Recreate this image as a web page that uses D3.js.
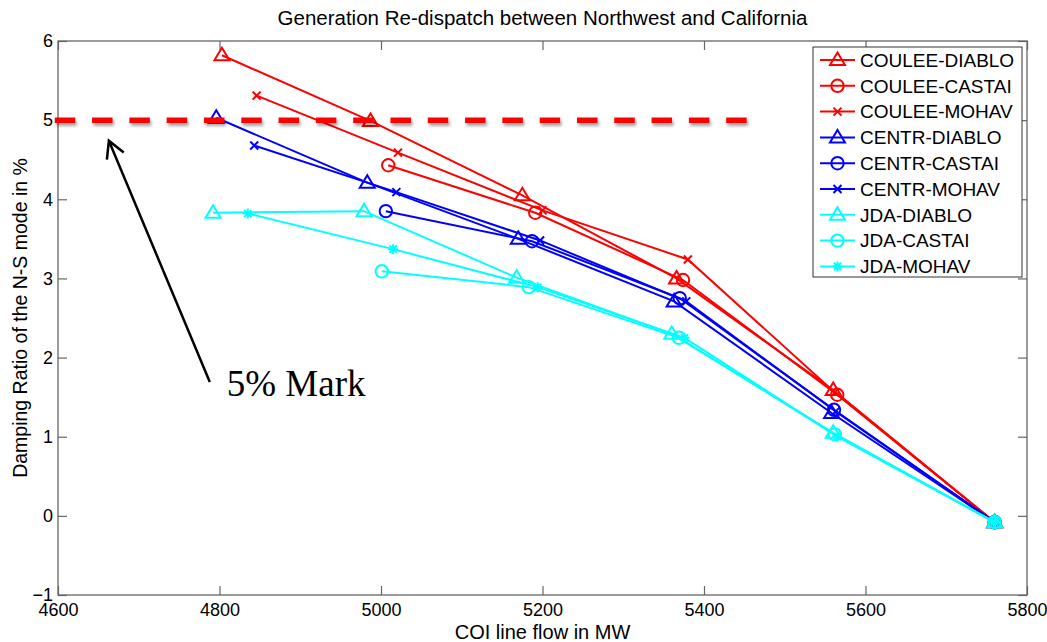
<!DOCTYPE html>
<html>
<head>
<meta charset="utf-8">
<script src="https://cdn.jsdelivr.net/npm/d3@7"></script>
<style>
  body { margin: 0; background: #fff; }
</style>
</head>
<body>
<div class="container"></div>
<script>
// tick labels
const xTicks = [4600, 4800, 5000, 5200, 5400, 5600, 5800],
    yTicks = [-1, 0, 1, 2, 3, 4, 5, 6];

// series: COI flow (MW) and damping ratio (%)
const seriesNames = ['COULEE-DIABLO', 'COULEE-CASTAI', 'COULEE-MOHAV',
    'CENTR-DIABLO', 'CENTR-CASTAI', 'CENTR-MOHAV',
    'JDA-DIABLO', 'JDA-CASTAI', 'JDA-MOHAV'];

const couleeDiabloFlow = [4803, 4987, 5175, 5366, 5560, 5760],
    couleeDiabloDamp = [5.82, 4.99, 4.05, 3.00, 1.59, -0.08];
const couleeCastaiFlow = [5009, 5191, 5374, 5565, 5760],
    couleeCastaiDamp = [4.43, 3.83, 2.98, 1.53, -0.08];
const couleeMohavFlow = [4846, 5021, 5200, 5380, 5562, 5760],
    couleeMohavDamp = [5.31, 4.59, 3.86, 3.24, 1.56, -0.08];
const centrDiabloFlow = [4796, 4983, 5170, 5363, 5558, 5760],
    centrDiabloDamp = [5.03, 4.21, 3.50, 2.71, 1.30, -0.08];
const centrCastaiFlow = [5006, 5187, 5370, 5561, 5760],
    centrCastaiDamp = [3.85, 3.47, 2.75, 1.34, -0.08];
const centrMohavFlow = [4843, 5019, 5197, 5378, 5563, 5760],
    centrMohavDamp = [4.68, 4.09, 3.48, 2.71, 1.32, -0.08];
const jdaDiabloFlow = [4792, 4979, 5168, 5360, 5560, 5760],
    jdaDiabloDamp = [3.83, 3.85, 3.01, 2.30, 1.05, -0.08];
const jdaCastaiFlow = [5001, 5183, 5369, 5562, 5760],
    jdaCastaiDamp = [3.09, 2.89, 2.25, 1.03, -0.08];
const jdaMohavFlow = [4835, 5015, 5194, 5376, 5565, 5760],
    jdaMohavDamp = [3.82, 3.37, 2.89, 2.25, 1.00, -0.08];

// 5% annotation
const markLevel = 5,
    markFrom = 4596,
    markTo = 5457,
    arrowTip = [4663, 4.74],
    arrowTail = [4788, 1.69],
    markLabelAt = [4809, 1.52];

const width = 1047, height = 642,
    margin = {top: 41, right: 20, bottom: 47, left: 58},
    sans = '"Liberation Sans", Arial, sans-serif';

const flows = [couleeDiabloFlow, couleeCastaiFlow, couleeMohavFlow,
    centrDiabloFlow, centrCastaiFlow, centrMohavFlow,
    jdaDiabloFlow, jdaCastaiFlow, jdaMohavFlow];
const damps = [couleeDiabloDamp, couleeCastaiDamp, couleeMohavDamp,
    centrDiabloDamp, centrCastaiDamp, centrMohavDamp,
    jdaDiabloDamp, jdaCastaiDamp, jdaMohavDamp];
const colors = ['#ff0000', '#ff0000', '#ff0000', '#0000ff', '#0000ff', '#0000ff',
    '#00ffff', '#00ffff', '#00ffff'];
const markers = ['tri', 'circ', 'x', 'tri', 'circ', 'x', 'tri', 'circ', 'star'];

const markerPath = type => {
    if (type === 'tri') return 'M0,-7.5L7.5,5L-7.5,5Z';
    if (type === 'circ') return d3.arc()({innerRadius: 0, outerRadius: 6.2, startAngle: 0, endAngle: 2 * Math.PI});
    if (type === 'x') return 'M-4,-4L4,4M-4,4L4,-4';
    return 'M-5,0L5,0M0,-5L0,5M-3.6,-3.6L3.6,3.6M-3.6,3.6L3.6,-3.6';
};

const xScale = d3.scaleLinear()
    .domain([4600, 5800])
    .range([margin.left, width - margin.right]);

const yScale = d3.scaleLinear()
    .domain([-1, 6])
    .range([height - margin.bottom, margin.top]);

const svg = d3.select('.container')
    .append('svg')
    .attr('width', width)
    .attr('height', height)
    .style('font-family', sans);

const defs = svg.append('defs');
defs.append('filter')
    .attr('id', 'shadow')
    .attr('filterUnits', 'userSpaceOnUse')
    .attr('x', 0).attr('y', 100).attr('width', width).attr('height', 40)
    .append('feDropShadow')
    .attr('dx', 1.5).attr('dy', 3).attr('stdDeviation', 1.6)
    .attr('flood-color', '#000').attr('flood-opacity', 0.35);

// axes with inward ticks on all four sides
const axisStyle = g => {
    g.select('.domain').remove();
    g.selectAll('line').attr('stroke', '#666').attr('stroke-width', 1.2);
    g.selectAll('text').attr('fill', '#000')
        .style('font-size', '18px').style('font-family', sans);
};

svg.append('g')
    .attr('transform', `translate(0, ${height - margin.bottom})`)
    .call(d3.axisBottom(xScale).tickValues(xTicks).tickFormat(d3.format('d')).tickSize(-9).tickPadding(8))
    .call(axisStyle);

svg.append('g')
    .attr('transform', `translate(0, ${margin.top})`)
    .call(d3.axisTop(xScale).tickValues(xTicks).tickSize(-9).tickFormat(''))
    .call(axisStyle);

svg.append('g')
    .attr('transform', `translate(${margin.left}, 0)`)
    .call(d3.axisLeft(yScale).tickValues(yTicks).tickFormat(d3.format('d')).tickSize(-9).tickPadding(5))
    .call(axisStyle);

svg.append('g')
    .attr('transform', `translate(${width - margin.right}, 0)`)
    .call(d3.axisRight(yScale).tickValues(yTicks).tickSize(-9).tickFormat(''))
    .call(axisStyle);

svg.append('rect')
    .attr('x', margin.left)
    .attr('y', margin.top)
    .attr('width', width - margin.left - margin.right)
    .attr('height', height - margin.top - margin.bottom)
    .attr('fill', 'none')
    .attr('stroke', '#666')
    .attr('stroke-width', 1.3);

// series
flows.forEach((flow, s) => {
    const pts = flow.map((f, i) => [xScale(f), yScale(damps[s][i])]);
    const g = svg.append('g');
    g.append('path')
        .attr('d', d3.line()(pts))
        .attr('fill', 'none')
        .attr('stroke', colors[s])
        .attr('stroke-width', 2);
    g.selectAll('path.mk')
        .data(pts)
        .enter()
        .append('path')
        .attr('class', 'mk')
        .attr('transform', d => `translate(${d[0]}, ${d[1]})`)
        .attr('d', markerPath(markers[s]))
        .attr('fill', 'none')
        .attr('stroke', colors[s])
        .attr('stroke-width', 2);
});

// 5% dashed mark
svg.append('line')
    .attr('x1', xScale(markFrom))
    .attr('x2', xScale(markTo))
    .attr('y1', yScale(markLevel))
    .attr('y2', yScale(markLevel))
    .attr('stroke', '#ff0000')
    .attr('stroke-width', 5.5)
    .attr('stroke-dasharray', '20.5 16.8')
    .attr('filter', 'url(#shadow)');

// arrow
const tip = [xScale(arrowTip[0]), yScale(arrowTip[1])],
    tail = [xScale(arrowTail[0]), yScale(arrowTail[1])],
    ang = Math.atan2(tail[1] - tip[1], tail[0] - tip[0]),
    wing = 19, spread = 0.5;
svg.append('path')
    .attr('d', `M${tail[0]},${tail[1]}L${tip[0]},${tip[1]}` +
        `M${tip[0] + wing * Math.cos(ang - spread)},${tip[1] + wing * Math.sin(ang - spread)}` +
        `L${tip[0]},${tip[1]}` +
        `L${tip[0] + wing * Math.cos(ang + spread)},${tip[1] + wing * Math.sin(ang + spread)}`)
    .attr('fill', 'none')
    .attr('stroke', '#000')
    .attr('stroke-width', 2.5);

svg.append('text')
    .attr('x', xScale(markLabelAt[0]))
    .attr('y', yScale(markLabelAt[1]))
    .style('font-family', '"Liberation Serif", "Times New Roman", serif')
    .style('font-size', '37px')
    .attr('fill', '#000')
    .text('5% Mark');

// legend
const legend = svg.append('g');
legend.append('rect')
    .attr('x', 813).attr('y', 47)
    .attr('width', 209).attr('height', 230)
    .attr('fill', '#fff')
    .attr('stroke', '#333')
    .attr('stroke-width', 1);

seriesNames.forEach((name, s) => {
    const y = 60 + s * 25.8;
    legend.append('line')
        .attr('x1', 820).attr('x2', 855)
        .attr('y1', y).attr('y2', y)
        .attr('stroke', colors[s]).attr('stroke-width', 2);
    legend.append('path')
        .attr('transform', `translate(837.5, ${y})`)
        .attr('d', markerPath(markers[s]))
        .attr('fill', 'none')
        .attr('stroke', colors[s])
        .attr('stroke-width', 2);
    legend.append('text')
        .attr('x', 860).attr('y', y)
        .attr('dy', '0.36em')
        .style('font-size', '19px')
        .attr('fill', '#000')
        .text(name);
});

// titles
svg.append('text')
    .attr('x', (margin.left + width - margin.right) / 2)
    .attr('y', 25)
    .attr('text-anchor', 'middle')
    .style('font-size', '20.5px')
    .text('Generation Re-dispatch between Northwest and California');

svg.append('text')
    .attr('x', (margin.left + width - margin.right) / 2)
    .attr('y', 639)
    .attr('text-anchor', 'middle')
    .style('font-size', '20px')
    .text('COI line flow in MW');

svg.append('text')
    .attr('transform', `translate(27, ${(margin.top + height - margin.bottom) / 2}) rotate(-90)`)
    .attr('text-anchor', 'middle')
    .style('font-size', '19.5px')
    .text('Damping Ratio of the N-S mode in %');
</script>
</body>
</html>
